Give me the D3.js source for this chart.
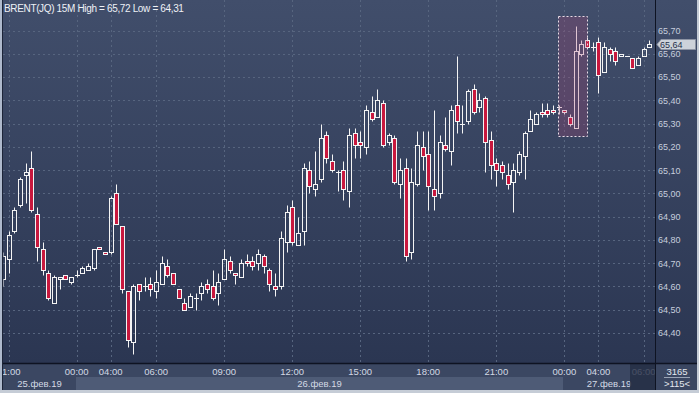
<!DOCTYPE html>
<html>
<head>
<meta charset="utf-8">
<script src="https://cdn.jsdelivr.net/npm/d3@7"></script>
<style>
  body { margin: 0; background: #c5ccd6; }
  svg { display: block; font-family: "Liberation Sans", Arial, sans-serif; }
</style>
</head>
<body>
<svg id="chart" width="699" height="393"></svg>
<script>
// BRENT(JQ) 15 minute candles, 25-27 feb 2019
var opens = [64.63,64.72,64.84,64.95,65.08,65.11,64.91,64.76,64.66,64.53,64.63,64.65,64.62,64.65,64.66,64.67,64.68,64.77,64.75,64.75,
  65.00,64.86,64.58,64.36,64.61,64.60,64.61,64.58,64.61,64.69,64.66,64.59,64.53,64.51,64.55,64.57,64.61,64.60,64.57,64.63,
  64.71,64.66,64.64,64.71,64.71,64.70,64.73,64.67,64.60,64.60,64.79,64.94,64.78,64.84,65.10,65.02,65.06,65.25,65.14,65.09,
  65.10,65.01,65.26,65.22,65.20,65.35,65.33,65.39,65.22,65.24,65.04,65.11,64.75,65.04,65.20,65.17,65.02,65.00,65.21,65.18,
  65.38,65.30,65.31,65.45,65.37,65.41,65.23,65.13,65.12,65.08,65.05,65.09,65.16,65.27,65.30,65.35,65.36,65.36,65.37,65.36,
  65.33,65.28,65.60,65.66,65.63,65.65,65.52,65.62,65.61,65.59,65.59,65.58,65.55,65.59,65.63];
var highs = [64.75,64.84,64.94,65.07,65.13,65.18,64.94,64.79,64.67,64.65,64.64,64.65,64.64,64.67,64.69,64.70,64.76,64.77,64.75,64.99,
  65.04,64.86,64.58,64.61,64.61,64.64,64.64,64.67,64.73,64.72,64.66,64.59,64.55,64.57,64.57,64.62,64.63,64.67,64.66,64.76,
  64.73,64.66,64.72,64.74,64.73,64.76,64.74,64.68,64.66,64.84,64.95,64.97,64.90,65.13,65.14,65.18,65.30,65.27,65.17,65.10,
  65.14,65.28,65.28,65.27,65.38,65.42,65.45,65.40,65.26,65.25,65.15,65.15,65.11,65.27,65.27,65.27,65.36,65.25,65.33,65.38,
  65.59,65.38,65.45,65.47,65.43,65.42,65.27,65.15,65.14,65.13,65.13,65.18,65.27,65.36,65.35,65.39,65.39,65.38,65.38,65.36,
  65.34,65.72,65.66,65.67,65.65,65.67,65.65,65.63,65.63,65.60,65.59,65.58,65.59,65.63,65.66];
var lows = [64.60,64.66,64.83,64.94,64.96,64.92,64.71,64.65,64.54,64.53,64.59,64.63,64.61,64.64,64.66,64.67,64.67,64.76,64.74,64.74,
  64.87,64.57,64.34,64.31,64.54,64.58,64.56,64.55,64.61,64.64,64.61,64.55,64.50,64.51,64.50,64.54,64.57,64.54,64.52,64.63,
  64.66,64.61,64.64,64.69,64.67,64.67,64.66,64.58,64.56,64.59,64.75,64.78,64.78,64.78,65.00,64.99,65.05,65.13,65.09,65.01,
  64.97,64.94,65.15,65.15,65.17,65.31,65.33,65.20,65.21,65.04,64.98,64.71,64.72,65.03,65.10,64.93,64.93,64.98,65.18,65.12,
  65.26,65.26,65.30,65.34,65.35,65.09,65.06,65.03,65.06,65.02,64.92,65.08,65.06,65.27,65.30,65.33,65.33,65.34,65.34,65.34,
  65.29,65.28,65.59,65.63,65.61,65.43,65.52,65.57,65.55,65.59,65.59,65.54,65.55,65.59,65.63];
var closes = [64.73,64.82,64.93,65.06,65.09,64.93,64.77,64.67,64.55,64.64,64.64,64.63,64.64,64.65,64.68,64.69,64.76,64.76,64.74,64.98,
  64.87,64.59,64.37,64.60,64.58,64.60,64.59,64.62,64.70,64.65,64.61,64.55,64.50,64.56,64.55,64.60,64.59,64.55,64.62,64.72,
  64.67,64.65,64.70,64.70,64.69,64.74,64.69,64.61,64.59,64.81,64.92,64.79,64.83,65.11,65.03,65.04,65.24,65.15,65.10,65.09,
  65.02,65.25,65.21,65.21,65.36,65.32,65.40,65.21,65.25,65.05,65.10,64.73,65.05,65.21,65.16,65.03,64.99,65.22,65.19,65.36,
  65.31,65.30,65.44,65.35,65.40,65.22,65.12,65.10,65.09,65.04,65.10,65.17,65.26,65.32,65.34,65.34,65.34,65.35,65.37,65.35,
  65.30,65.61,65.64,65.63,65.63,65.51,65.63,65.60,65.57,65.60,65.59,65.54,65.58,65.62,65.64];

var timeTickIdx = [1, 13, 19, 27, 39, 51, 63, 75, 87, 99, 105, 113];
var timeTickLabels = ["21:00","00:00","04:00","06:00","09:00","12:00","15:00","18:00","21:00","00:00","04:00","06:00"];
var dayBreakIdx = [13, 99];
var dayLabels = ["25.фев.19", "26.фев.19", "27.фев.19"];
var priceTicks = [64.40,64.50,64.60,64.70,64.80,64.90,65.00,65.10,65.20,65.30,65.40,65.50,65.60,65.70];
// dashed box drawn on the chart: [first idx, last idx, top price, bottom price]
var boxArea = [97.9, 103.1, 65.762, 65.245];

function drawChart() {
  var svg = d3.select("#chart"),
      W = +svg.attr("width"), H = +svg.attr("height");
  var pLeft = 3, pRight = 655, pTop = 0, pBottom = 363;
  var comma = function(v) { return d3.format(".2f")(v).replace(".", ","); };

  var x = d3.scaleLinear().domain([0, opens.length - 1]).range([3, 649.4]);
  var y = d3.scaleLinear().domain([64.40, 65.70]).range([333, 30.5]);

  var defs = svg.append("defs");
  var grad = defs.append("linearGradient").attr("id", "bg").attr("x1", 0).attr("y1", 0).attr("x2", 0).attr("y2", 1);
  grad.append("stop").attr("offset", "0%").attr("stop-color", "#414e6b");
  grad.append("stop").attr("offset", "100%").attr("stop-color", "#2b3652");
  defs.append("clipPath").attr("id", "plotclip")
    .append("rect").attr("x", pLeft + 0.5).attr("y", pTop).attr("width", pRight - pLeft).attr("height", pBottom - pTop);
  defs.append("clipPath").attr("id", "axisclip")
    .append("rect").attr("x", pLeft).attr("y", pBottom).attr("width", pRight - pLeft).attr("height", 27);

  // backgrounds
  svg.append("rect").attr("width", W).attr("height", H).attr("fill", "#c5ccd6");
  svg.append("rect").attr("x", pLeft).attr("y", 0).attr("width", 694).attr("height", pBottom).attr("fill", "url(#bg)");
  svg.append("rect").attr("x", 0).attr("y", 0).attr("width", 2).attr("height", 390).attr("fill", "#aeb9cc");
  svg.append("rect").attr("x", 2).attr("y", 0).attr("width", 1).attr("height", 390).attr("fill", "#1c2438");

  // grid
  var grid = svg.append("g").attr("stroke", "#57657f").attr("stroke-dasharray", "2,3").attr("stroke-width", 1);
  grid.selectAll("line.h").data(priceTicks).enter().append("line")
    .attr("x1", pLeft).attr("x2", pRight)
    .attr("y1", function(d) { return Math.round(y(d)) + 0.5; })
    .attr("y2", function(d) { return Math.round(y(d)) + 0.5; });
  grid.selectAll("line.v").data(timeTickIdx).enter().append("line")
    .attr("y1", pTop).attr("y2", pBottom)
    .attr("x1", function(d) { return Math.round(x(d)) + 0.5; })
    .attr("x2", function(d) { return Math.round(x(d)) + 0.5; });

  // candles
  var candles = d3.range(opens.length).map(function(i) {
    return { i: i, o: opens[i], h: highs[i], l: lows[i], c: closes[i] };
  });
  var cg = svg.append("g").attr("clip-path", "url(#plotclip)")
    .attr("stroke", "#f4f4f4").attr("stroke-width", 1);
  candles.forEach(function(d) {
    var cx = Math.round(x(d.i));
    var yt = Math.round(y(Math.max(d.o, d.c))) + 0.5,
        yb = Math.round(y(Math.min(d.o, d.c))) + 0.5,
        yh = Math.round(y(d.h)) + 0.5,
        yl = Math.round(y(d.l)) + 0.5;
    if (yh < yt) cg.append("line").attr("x1", cx + 0.5).attr("x2", cx + 0.5).attr("y1", yh).attr("y2", yt);
    if (yl > yb) cg.append("line").attr("x1", cx + 0.5).attr("x2", cx + 0.5).attr("y1", yb).attr("y2", yl);
    if (yb - yt < 1) {
      cg.append("line").attr("x1", cx - 2).attr("x2", cx + 3).attr("y1", yt).attr("y2", yt);
    } else {
      cg.append("rect").attr("x", cx - 1.5).attr("y", yt).attr("width", 4).attr("height", yb - yt)
        .attr("fill", d.c < d.o ? "#c8183e" : "none");
    }
  });

  // highlighted area
  svg.append("rect")
    .attr("x", Math.round(x(boxArea[0])) + 0.5).attr("y", Math.round(y(boxArea[2])) + 0.5)
    .attr("width", Math.round(x(boxArea[1]) - x(boxArea[0])))
    .attr("height", Math.round(y(boxArea[3]) - y(boxArea[2])))
    .attr("fill", "rgba(170,70,120,0.27)")
    .attr("stroke", "#e9dce6").attr("stroke-dasharray", "2,2");

  // title
  svg.append("text").attr("x", 4).attr("y", 12).attr("fill", "#eef1f6").attr("font-size", "10px")
    .attr("letter-spacing", "-0.35px")
    .text("BRENT(JQ) 15M High = " + comma(d3.max(highs)) + " Low = " + comma(d3.min(lows)));

  // right axis
  var ya = svg.append("g").attr("transform", "translate(" + pRight + ",0)")
    .call(d3.axisRight(y).tickValues(priceTicks).tickSize(0).tickPadding(3).tickFormat(comma));
  ya.select(".domain").remove();
  ya.selectAll("text").attr("fill", "#c6cedd").attr("font-size", "9px").attr("font-family", "Liberation Sans, Arial");
  svg.append("line").attr("x1", pRight + 0.5).attr("x2", pRight + 0.5).attr("y1", 0).attr("y2", pBottom)
    .attr("stroke", "#0e1322");

  // last price marker
  var last = closes[closes.length - 1], ly = Math.round(y(last));
  svg.append("path")
    .attr("d", "M" + (pRight + 2) + "," + (ly + 0.5) + "L" + (pRight + 6) + "," + (ly - 4.5) + "H695.5V" + (ly + 5.5) + "H" + (pRight + 6) + "Z")
    .attr("fill", "#cdd2da").attr("stroke", "#8d94a4");
  svg.append("text").attr("x", pRight + 5).attr("y", ly + 4).attr("fill", "#27304a").attr("font-size", "9px").text(comma(last));

  // bottom time axis
  var ax = svg.append("g");
  ax.append("rect").attr("x", pLeft).attr("y", pBottom).attr("width", 694).attr("height", 27).attr("fill", "#3b4762");
  var dayEdges = [pLeft].concat(dayBreakIdx.map(function(d) { return Math.round(x(d)) - 1; })).concat([pRight]);
  dayLabels.forEach(function(lbl, i) {
    ax.append("rect").attr("x", dayEdges[i]).attr("y", 377).attr("width", dayEdges[i + 1] - dayEdges[i]).attr("height", 13)
      .attr("fill", i % 2 ? "#4e5b76" : "#3b4762");
    ax.append("text").attr("x", (dayEdges[i] + dayEdges[i + 1]) / 2).attr("y", 387)
      .attr("text-anchor", "middle").attr("fill", "#d3d9e4").attr("font-size", "9.5px").text(lbl);
  });
  var tg = ax.append("g").attr("clip-path", "url(#axisclip)");
  tg.selectAll("text").data(timeTickIdx).enter().append("text")
    .attr("x", function(d) { return x(d); }).attr("y", 375)
    .attr("text-anchor", "middle").attr("fill", "#d3d9e4").attr("font-size", "9.5px")
    .text(function(d, i) { return timeTickLabels[i]; });
  ax.append("rect").attr("x", 630).attr("y", pBottom).attr("width", pRight - 630).attr("height", 27)
    .attr("fill", "rgba(36,45,68,0.8)");
  ax.append("line").attr("x1", pLeft).attr("x2", 697).attr("y1", pBottom + 0.5).attr("y2", pBottom + 0.5)
    .attr("stroke", "#0e1322").attr("stroke-width", 1.5);
  ax.append("line").attr("x1", pRight + 0.5).attr("x2", pRight + 0.5).attr("y1", pBottom).attr("y2", 390)
    .attr("stroke", "#0e1322");

  // corner counters
  ax.append("text").attr("x", 677).attr("y", 375).attr("text-anchor", "middle").attr("fill", "#e4e8ef")
    .attr("font-size", "9.5px").text("3165");
  ax.append("line").attr("x1", 664).attr("x2", 690).attr("y1", 377.5).attr("y2", 377.5).attr("stroke", "#9aa4b6");
  ax.append("text").attr("x", 677).attr("y", 387).attr("text-anchor", "middle").attr("fill", "#e4e8ef")
    .attr("font-size", "9.5px").text(">115<");

  // outer frame
  svg.append("rect").attr("x", 0).attr("y", 390).attr("width", W).attr("height", 3).attr("fill", "#c5ccd6");
  svg.append("rect").attr("x", 697).attr("y", 0).attr("width", 2).attr("height", H).attr("fill", "#c5ccd6");
}

drawChart();
</script>
</body>
</html>
